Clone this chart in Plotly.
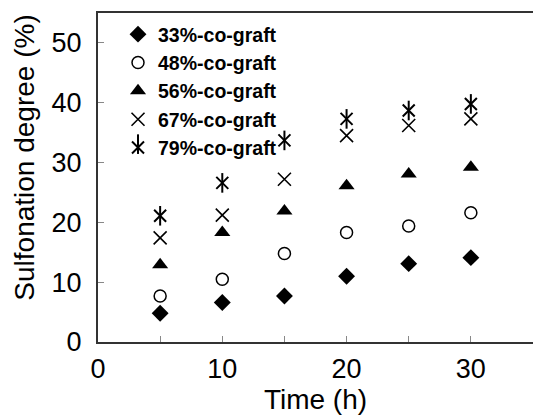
import plotly.graph_objects as go

time_h = [5, 10, 15, 20, 25, 30]
names = ["33%-co-graft", "48%-co-graft", "56%-co-graft", "67%-co-graft", "79%-co-graft"]
s33 = [4.8, 6.6, 7.7, 11.0, 13.1, 14.1]
s48 = [7.7, 10.5, 14.8, 18.3, 19.4, 21.6]
s56 = [12.9, 18.3, 21.9, 26.1, 28.1, 29.2]
s67 = [17.4, 21.2, 27.2, 34.5, 36.2, 37.3]
s79 = [21.1, 26.6, 33.7, 37.3, 38.7, 39.8]
x_tick_vals = [0, 5, 10, 15, 20, 25, 30, 35]
x_tick_text = ["0", "", "10", "", "20", "", "30", ""]
y_tick_vals = [0, 10, 20, 30, 40, 50]

series = [s33, s48, s56, s67, s79]
styles = [
    dict(symbol="diamond", size=13, color="black"),
    dict(symbol="circle-open", size=12, color="black", line=dict(width=1.5, color="black")),
    dict(symbol="triangle-up", size=14, color="black"),
    dict(symbol="x-thin-open", size=13, color="black", line=dict(width=1.6, color="black")),
    dict(symbol="x-thin-open", size=12, color="black", line=dict(width=2, color="black")),
]

fig = go.Figure()
for i, (nm, ys, st) in enumerate(zip(names, series, styles)):
    fig.add_trace(go.Scatter(x=time_h, y=ys, mode="markers", name=nm,
                             legendgroup=f"g{i}", marker=st))
# vertical stroke of the six-armed asterisk marker (79%-co-graft)
fig.add_trace(go.Scatter(x=time_h, y=s79, mode="markers", name=" ",
                         legend="legend2", legendgroup="g5",
                         marker=dict(symbol="line-ns-open", size=14, color="black",
                                     line=dict(width=2, color="black"))))

font_family = "Liberation Sans, Arial, sans-serif"
row_h = 27.5 / 329
leg_y = 0.994
legend_font = dict(family=font_family, size=19.5, color="black", weight="bold")
fig.update_layout(
    width=533, height=420,
    margin=dict(l=98, r=0, t=13, b=78),
    plot_bgcolor="white", paper_bgcolor="white",
    font=dict(family=font_family, color="black"),
    showlegend=True,
    legend=dict(x=0.046, y=leg_y, xanchor="left", yanchor="top",
                bgcolor="rgba(0,0,0,0)", tracegroupgap=0, font=legend_font),
    legend2=dict(x=0.046, y=leg_y - 4 * row_h, xanchor="left", yanchor="top",
                 bgcolor="rgba(0,0,0,0)", tracegroupgap=0, font=legend_font),
    xaxis=dict(range=[0, 35], tickvals=x_tick_vals, ticktext=x_tick_text,
               ticks="inside", ticklen=6, tickcolor="#888", tickwidth=1,
               showline=True, linecolor="#333", linewidth=2, mirror=True,
               showgrid=False, zeroline=False, ticklabelstandoff=2,
               tickfont=dict(size=27),
               title=dict(text="Time (h)", font=dict(size=28), standoff=6)),
    yaxis=dict(range=[0, 55], tickvals=y_tick_vals,
               ticks="inside", ticklen=6, tickcolor="#888", tickwidth=1,
               showline=True, linecolor="#333", linewidth=2, mirror=False,
               showgrid=False, zeroline=False, ticklabelstandoff=9,
               tickfont=dict(size=27)),
    annotations=[dict(text="Sulfonation degree (%)", textangle=-90,
                      xref="paper", yref="paper", x=-0.168, y=0.56,
                      xanchor="center", yanchor="middle", showarrow=False,
                      font=dict(size=28, family=font_family))],
)

fig.write_html("out.html")
